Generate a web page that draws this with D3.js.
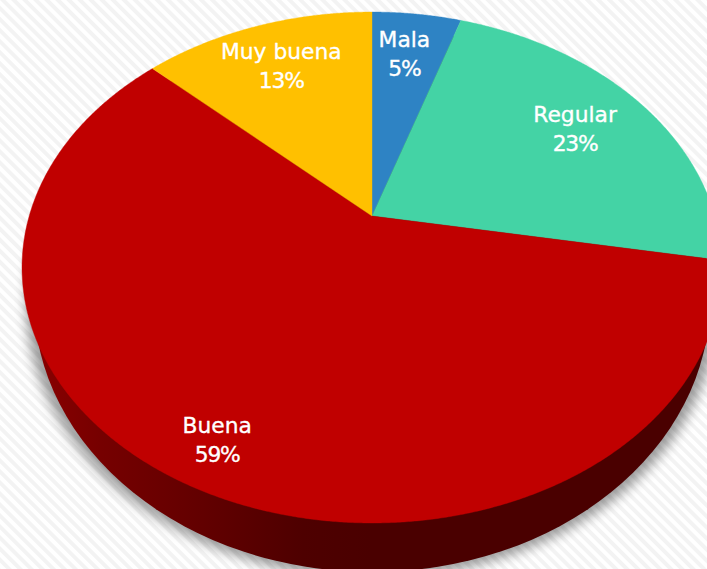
<!DOCTYPE html>
<html>
<head>
<meta charset="utf-8">
<script src="https://cdn.jsdelivr.net/npm/d3@7/dist/d3.min.js"></script>
<style>
    html, body { margin: 0; padding: 0; background: #fff; overflow: hidden; }
    text { font-family: "DejaVu Sans", sans-serif; font-size: 21.8px; fill: #fff; stroke: #fff; stroke-width: 0.35; text-anchor: middle; }
    .percent { letter-spacing: -1.2px; }
</style>
</head>
<body>
<div id="chart"></div>
<script>
let categories = ["Mala", "Regular", "Buena", "Muy buena"];
let values = [5, 22.8, 59.2, 13];
let colors = ["#2E83C4", "#44D3A5", "#C00000", "#FFC000"];

let WIDTH = 707,
    HEIGHT = 569;

// The tilted disc: apex of the slices sits above the centre of the ellipse,
// so the unit circle goes through a small perspective divide
let APEX_X = 372,
    APEX_Y = 216,
    SCALE_X = 342.8,
    SCALE_Y = 245.1,
    TILT = 0.2016;

// Hand placed label tweaks, in slice order
let LABEL_NUDGE = [[-3, -2], [-4, 2], [2, 0], [0, 0]];

function project(angle, r) {
    let u = r * Math.sin(angle),
        v = r * Math.cos(angle),
        w = 1 + TILT * v;
    return [APEX_X + SCALE_X * u / w, APEX_Y - SCALE_Y * v / w];
}

let svg = d3.select("#chart")
    .append("svg")
    .attr("width", WIDTH)
    .attr("height", HEIGHT)
    .style("display", "block");

let defs = svg.append("defs");

let stripes = defs.append("pattern")
    .attr("id", "stripes")
    .attr("patternUnits", "userSpaceOnUse")
    .attr("width", 7.8)
    .attr("height", 7.8)
    .attr("patternTransform", "rotate(-45)");

stripes.append("rect")
    .attr("width", 7.8)
    .attr("height", 7.8)
    .attr("fill", "#fff");

stripes.append("rect")
    .attr("width", 3.9)
    .attr("height", 7.8)
    .attr("fill", "#f3f3f3");

let wallGradient = defs.append("linearGradient")
    .attr("id", "wall")
    .attr("gradientUnits", "userSpaceOnUse")
    .attr("x1", 34).attr("x2", 707)
    .attr("y1", 0).attr("y2", 0);

[[0, "#8a0000"], [0.1, "#760000"], [0.25, "#620000"], [0.4, "#4e0000"], [0.5, "#4a0000"], [1, "#4a0000"]]
    .forEach(d => wallGradient.append("stop").attr("offset", d[0]).attr("stop-color", d[1]));

defs.append("filter")
    .attr("id", "blur")
    .attr("x", "-10%").attr("y", "-10%")
    .attr("width", "120%").attr("height", "120%")
    .append("feGaussianBlur")
    .attr("stdDeviation", 6);

svg.append("rect")
    .attr("width", WIDTH)
    .attr("height", HEIGHT)
    .attr("fill", "url(#stripes)");

// Soft shadow, then the side wall, both ellipses below the top face

svg.append("ellipse")
    .attr("cx", 372).attr("cy", 303)
    .attr("rx", 346).attr("ry", 275)
    .attr("fill", "#000")
    .attr("opacity", 0.38)
    .attr("filter", "url(#blur)");

svg.append("ellipse")
    .attr("cx", 372).attr("cy", 300)
    .attr("rx", 338).attr("ry", 272)
    .attr("fill", "url(#wall)");

// Draw the slices

let pie = d3.pie().sort(null);

let slices = pie(values).map((d, i) => ({
    name: categories[i],
    value: d.value,
    color: colors[i],
    nudge: LABEL_NUDGE[i],
    startAngle: d.startAngle,
    endAngle: d.endAngle
}));

let line = d3.line();

function slicePath(d) {
    let steps = Math.ceil((d.endAngle - d.startAngle) / 0.005);
    let angle = d3.scaleLinear().domain([0, steps]).range([d.startAngle, d.endAngle]);
    let points = d3.range(steps + 1).map(i => project(angle(i), 1));
    return line([[APEX_X, APEX_Y]].concat(points)) + "Z";
}

svg.selectAll(".slice")
    .data(slices)
    .enter()
    .append("path")
    .classed("slice", true)
    .attr("d", slicePath)
    .attr("fill", d => d.color)
    .attr("stroke", d => d.color)
    .attr("stroke-width", 0.4);

// Labels sit further out on the big slice, same as the original

let label = svg.selectAll(".label")
    .data(slices)
    .enter()
    .append("text")
    .classed("label", true)
    .attr("transform", d => {
        let p = project((d.startAngle + d.endAngle) / 2, d.value > 50 ? 0.862 : 0.76);
        return "translate(" + (p[0] + d.nudge[0]) + "," + (p[1] + d.nudge[1]) + ")";
    });

label.append("tspan")
    .attr("x", 0)
    .attr("y", -7)
    .text(d => d.name);

label.append("tspan")
    .classed("percent", true)
    .attr("x", 0)
    .attr("y", 22)
    .text(d => Math.round(d.value) + "%");
</script>
</body>
</html>
